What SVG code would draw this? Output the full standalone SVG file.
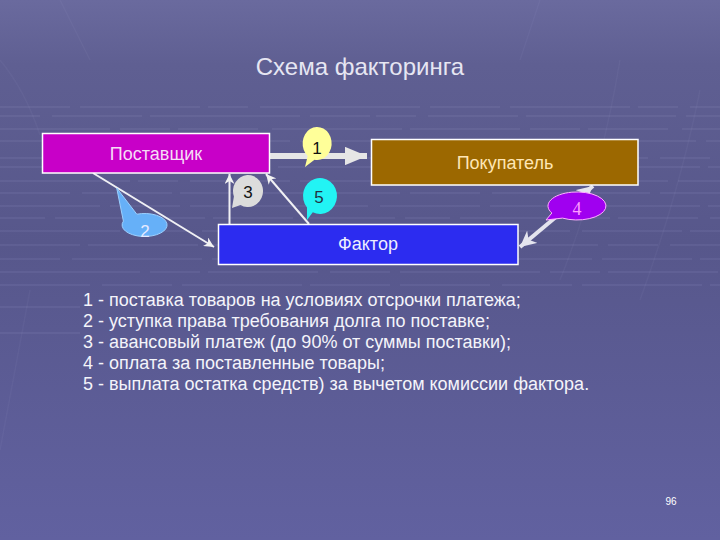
<svg xmlns="http://www.w3.org/2000/svg" width="720" height="540" viewBox="0 0 720 540">
  <defs>
    <linearGradient id="bg" x1="0" y1="0" x2="0" y2="1">
      <stop offset="0" stop-color="#6a6a9e"/>
      <stop offset="0.12" stop-color="#5f5f92"/>
      <stop offset="0.45" stop-color="#57578b"/>
      <stop offset="1" stop-color="#6161a0"/>
    </linearGradient>
    <marker id="head" viewBox="0 0 10 10" refX="10" refY="5" markerWidth="5" markerHeight="5" orient="auto-start-reverse" markerUnits="strokeWidth">
      <path d="M0,0 L10,5 L0,10 L3,5 Z" fill="#f2f2f2"/>
    </marker>
    <marker id="headWide" viewBox="0 0 10 10" refX="10" refY="5" markerWidth="4" markerHeight="4" orient="auto-start-reverse" markerUnits="strokeWidth">
      <path d="M0,0 L10,5 L0,10 L3,5 Z" fill="#e4e4ee"/>
    </marker>
    <marker id="headBig" viewBox="0 0 12 10" refX="12" refY="5" markerWidth="3.7" markerHeight="3.1" orient="auto" markerUnits="strokeWidth">
      <path d="M0,0 L12,5 L0,10 Z" fill="#e6e6e6"/>
    </marker>
    <style>
      .txt { font-family: "Liberation Sans", Arial, sans-serif; }
      .box { stroke: #ffffff; stroke-width: 1.5; }
      .lbl { font-size: 18px; text-anchor: middle; }
      .thin { stroke: #f0f0f4; stroke-width: 2; fill: none; marker-end: url(#head); }
      .num { font-size: 17px; text-anchor: middle; }
      .legend { font-size: 18px; fill: #f4f4fa; }
      .stripe { stroke: #a0a0d0; stroke-width: 1.3; opacity: 0.16; }
      .diag { stroke: #c8c8f0; stroke-width: 1.5; opacity: 0.05; fill: none; }
    </style>
  </defs>

  <g id="backdrop">
    <rect x="0" y="0" width="720" height="540" fill="url(#bg)"/>
    <line class="stripe" x1="0" y1="107" x2="720" y2="107" stroke-dasharray="70 10 120 8 40 12 160 10"/>
    <line class="stripe" x1="0" y1="116" x2="720" y2="116" stroke-dasharray="40 12 90 8 150 10 60 6"/>
    <line class="stripe" x1="0" y1="129" x2="720" y2="129" stroke-dasharray="110 10 50 8 80 14 130 8"/>
    <line class="stripe" x1="0" y1="141" x2="720" y2="141" stroke-dasharray="60 8 140 12 70 10 100 6"/>
    <line class="stripe" x1="0" y1="158" x2="720" y2="158" stroke-dasharray="90 10 60 8 120 12 50 10"/>
    <line class="stripe" x1="0" y1="167" x2="720" y2="167" stroke-dasharray="50 10 110 10 90 8 140 12"/>
    <line class="stripe" x1="0" y1="181" x2="720" y2="181" stroke-dasharray="130 8 40 12 100 10 70 8"/>
    <line class="stripe" x1="0" y1="193" x2="720" y2="193" stroke-dasharray="70 12 90 8 60 10 150 10"/>
    <line class="stripe" x1="0" y1="206" x2="720" y2="206" stroke-dasharray="100 10 70 10 130 8 40 12"/>
    <line class="stripe" x1="0" y1="218" x2="720" y2="218" stroke-dasharray="45 10 150 8 80 12 90 10"/>
    <line class="stripe" x1="0" y1="231" x2="720" y2="231" stroke-dasharray="120 10 60 12 100 8 60 10"/>
    <line class="stripe" x1="0" y1="245" x2="720" y2="245" stroke-dasharray="80 8 110 10 50 12 120 10"/>
    <line class="stripe" x1="0" y1="259" x2="720" y2="259" stroke-dasharray="60 12 130 10 90 8 70 10"/>
    <line class="stripe" x1="0" y1="272" x2="720" y2="272" stroke-dasharray="140 10 50 8 110 12 60 10"/>
    <line class="stripe" x1="0" y1="285" x2="720" y2="285" stroke-dasharray="90 12 70 10 120 8 80 10" opacity="0.1"/>
    <line class="stripe" x1="0" y1="307" x2="80" y2="307" opacity="0.1"/>
    <line class="stripe" x1="0" y1="333" x2="80" y2="333" opacity="0.07"/>
    <path class="diag" d="M30,290 Q15,370 0,450"/>
    <path class="diag" d="M0,60 Q25,90 40,135"/>
    <path class="diag" d="M60,0 L90,60"/>
    <path class="diag" d="M620,60 Q600,180 560,280"/>
    <path class="diag" d="M700,90 Q680,190 640,300"/>
    <path class="diag" d="M540,0 L520,60"/>
  </g>

  <text class="txt" x="360" y="75" font-size="24" text-anchor="middle" fill="#e6e6f2">Схема факторинга</text>

  <g id="connectors">
    <line x1="270" y1="156" x2="367" y2="156" stroke="#e6e6e6" stroke-width="6" marker-end="url(#headBig)"/>
    <line class="thin" x1="93" y1="173" x2="214" y2="247"/>
    <line class="thin" x1="229.5" y1="224" x2="229.5" y2="174"/>
    <line class="thin" x1="309" y1="224" x2="266" y2="174"/>
    <line x1="593" y1="186" x2="520" y2="247" stroke="#e4e4ee" stroke-width="4" marker-start="url(#headWide)" marker-end="url(#headWide)"/>
  </g>

  <g id="supplier">
    <rect class="box" x="42.5" y="133.5" width="227" height="39.5" fill="#c800c8"/>
    <text class="txt lbl" x="156" y="160" fill="#f6dcf6">Поставщик</text>
  </g>
  <g id="buyer">
    <rect class="box" x="371.5" y="139.5" width="266.5" height="45.5" fill="#9c6800"/>
    <text class="txt lbl" x="505" y="169" fill="#ffe6b4">Покупатель</text>
  </g>
  <g id="factor">
    <rect class="box" x="218.5" y="224.5" width="299.5" height="40" fill="#2c2cf0"/>
    <text class="txt lbl" x="368" y="250" fill="#eeeeff">Фактор</text>
  </g>

  <g id="callout-1">
    <path d="M307.7,156 L305,167 L314.5,159.7 A14.5 16.5 0 1 0 307.7 156 Z" fill="#ffff99"/>
    <text class="txt num" x="317" y="154" fill="#111111">1</text>
  </g>
  <g id="callout-2">
    <path d="M123.4,221.1 L116.7,188 L136.8,214.2 A22.5 11.5 0 1 1 123.4 221.1 Z" fill="#66b0f8" stroke="#9cd0ff" stroke-width="1"/>
    <text class="txt num" x="145" y="237" fill="#e6eaff">2</text>
  </g>
  <g id="callout-3">
    <path d="M233.9,196.5 L232,208 L240.5,204.9 A15 16 0 1 0 233.9 196.5 Z" fill="#dcdcdc"/>
    <text class="txt num" x="248" y="198" fill="#111111">3</text>
  </g>
  <g id="callout-5">
    <path d="M307,207.6 L307,220 L312.8,212.3 A17 18 0 1 0 307 207.6 Z" fill="#22f4f4"/>
    <text class="txt num" x="319" y="203" fill="#223344">5</text>
  </g>
  <g id="callout-4">
    <path d="M551.9,213 L546,220 L562.5,218.1 A29 14 0 1 0 551.9 213 Z" fill="#a000f0" stroke="#ffb0ff" stroke-width="1"/>
    <text x="577" y="215" font-family="'Liberation Serif', 'Times New Roman', serif" font-size="18" text-anchor="middle" fill="#ff9cff">4</text>
  </g>

  <g id="legend">
    <text class="txt legend" x="83" y="305.5">1 - поставка товаров на условиях отсрочки платежа;</text>
    <text class="txt legend" x="83" y="326.5">2 - уступка права требования долга по поставке;</text>
    <text class="txt legend" x="83" y="347.5">3 - авансовый платеж (до 90% от суммы поставки);</text>
    <text class="txt legend" x="83" y="368.5">4 - оплата за поставленные товары;</text>
    <text class="txt legend" x="83" y="389.5">5 - выплата остатка средств) за вычетом комиссии фактора.</text>
  </g>

  <text class="txt" x="671" y="505" font-size="10" text-anchor="middle" fill="#ffffff">96</text>
</svg>
